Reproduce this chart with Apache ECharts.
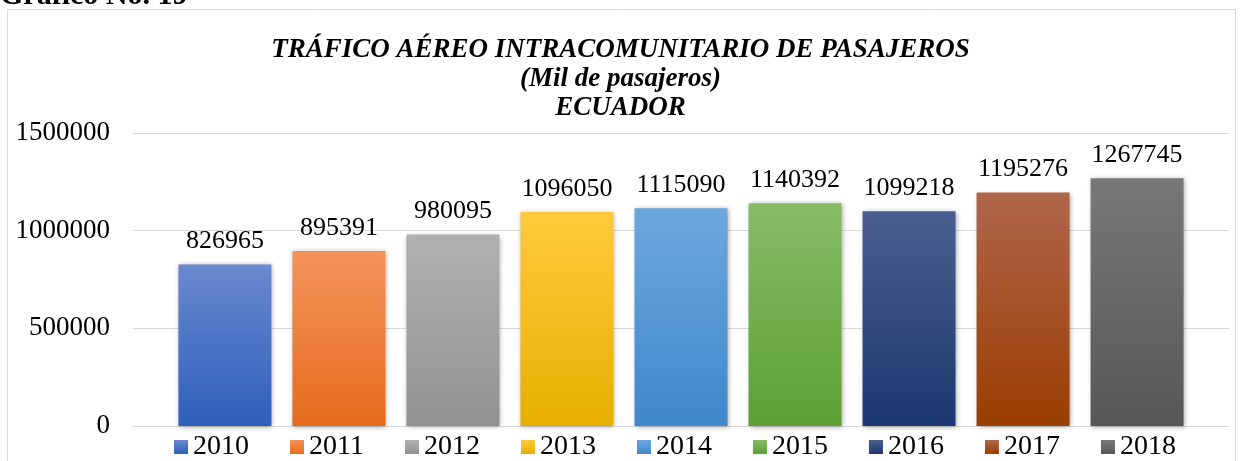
<!DOCTYPE html>
<html>
<head>
<meta charset="utf-8">
<script src="https://cdn.jsdelivr.net/npm/echarts@6/dist/echarts.min.js"></script>
<style>
html,body{margin:0;padding:0;background:#fff;}
#chart{width:1241px;height:461px;}
</style>
</head>
<body>
<div id="chart"></div>
<script>
const years = ['2010','2011','2012','2013','2014','2015','2016','2017','2018'];
const values = [826965, 895391, 980095, 1096050, 1115090, 1140392, 1099218, 1195276, 1267745];
const yTicks = [0, 500000, 1000000, 1500000];
const topColors = ['#6a89cf','#f4935c','#b1b1b1','#ffca3c','#6ba8de','#86bc65','#4b5f8f','#b0664b','#787878'];
const bottomColors = ['#2e5fba','#e56b1c','#919191','#e5b000','#3f88cb','#5ba034','#1c3870','#9a3e02','#575757'];

const serif = '"Liberation Serif", "Times New Roman", serif';
const series = years.map((y, i) => ({
  name: y,
  type: 'bar',
  data: [values[i]],
  barWidth: 93,
  barGap: '22.6%',
  itemStyle: {
    color: new echarts.graphic.LinearGradient(0, 0, 0, 1, [
      {offset: 0, color: topColors[i]},
      {offset: 1, color: bottomColors[i]}
    ]),
    shadowBlur: 5,
    shadowColor: 'rgba(0,0,0,0.35)',
    shadowOffsetX: 1,
    shadowOffsetY: 1
  },
  label: {
    show: true,
    position: 'top',
    distance: 10,
    fontFamily: serif,
    fontSize: 26,
    color: '#000'
  }
}));

const chart = echarts.init(document.getElementById('chart'), null, {renderer: 'canvas'});
chart.setOption({
  animation: false,
  backgroundColor: '#fff',
  title: {
    text: 'TRÁFICO AÉREO INTRACOMUNITARIO DE PASAJEROS\n(Mil de pasajeros)\nECUADOR',
    left: 'center',
    top: 31,
    textStyle: {
      fontFamily: serif,
      fontStyle: 'italic',
      fontWeight: 'bold',
      fontSize: 27,
      lineHeight: 29,
      color: '#000'
    }
  },
  graphic: [
    {type: 'rect', shape: {x: 7.5, y: 9.5, width: 1228, height: 470}, style: {fill: 'none', stroke: '#d9d9d9', lineWidth: 1}, silent: true},
    {type: 'text', left: 0, top: -19, style: {text: 'Gráfico No. 19', font: 'bold 30px "Liberation Serif", serif', fill: '#000'}}
  ],
  legend: {
    data: years,
    left: 169,
    top: 428,
    itemWidth: 14,
    itemHeight: 14,
    itemGap: 41,
    icon: 'rect',
    textStyle: {fontFamily: serif, fontSize: 28, color: '#000'}
  },
  grid: {left: 133, right: 12, top: 133, bottom: 35, containLabel: false},
  xAxis: {
    type: 'category',
    data: [''],
    axisLine: {show: true, lineStyle: {color: '#d9d9d9', width: 1}},
    axisTick: {show: false},
    axisLabel: {show: false}
  },
  yAxis: {
    type: 'value',
    min: yTicks[0],
    max: yTicks[yTicks.length - 1],
    interval: yTicks[1] - yTicks[0],
    axisLine: {show: false},
    axisTick: {show: false},
    axisLabel: {fontFamily: serif, fontSize: 27, color: '#000', margin: 23, formatter: v => String(v)},
    splitLine: {lineStyle: {color: '#d9d9d9', width: 1}}
  },
  series: series
});
</script>
</body>
</html>
